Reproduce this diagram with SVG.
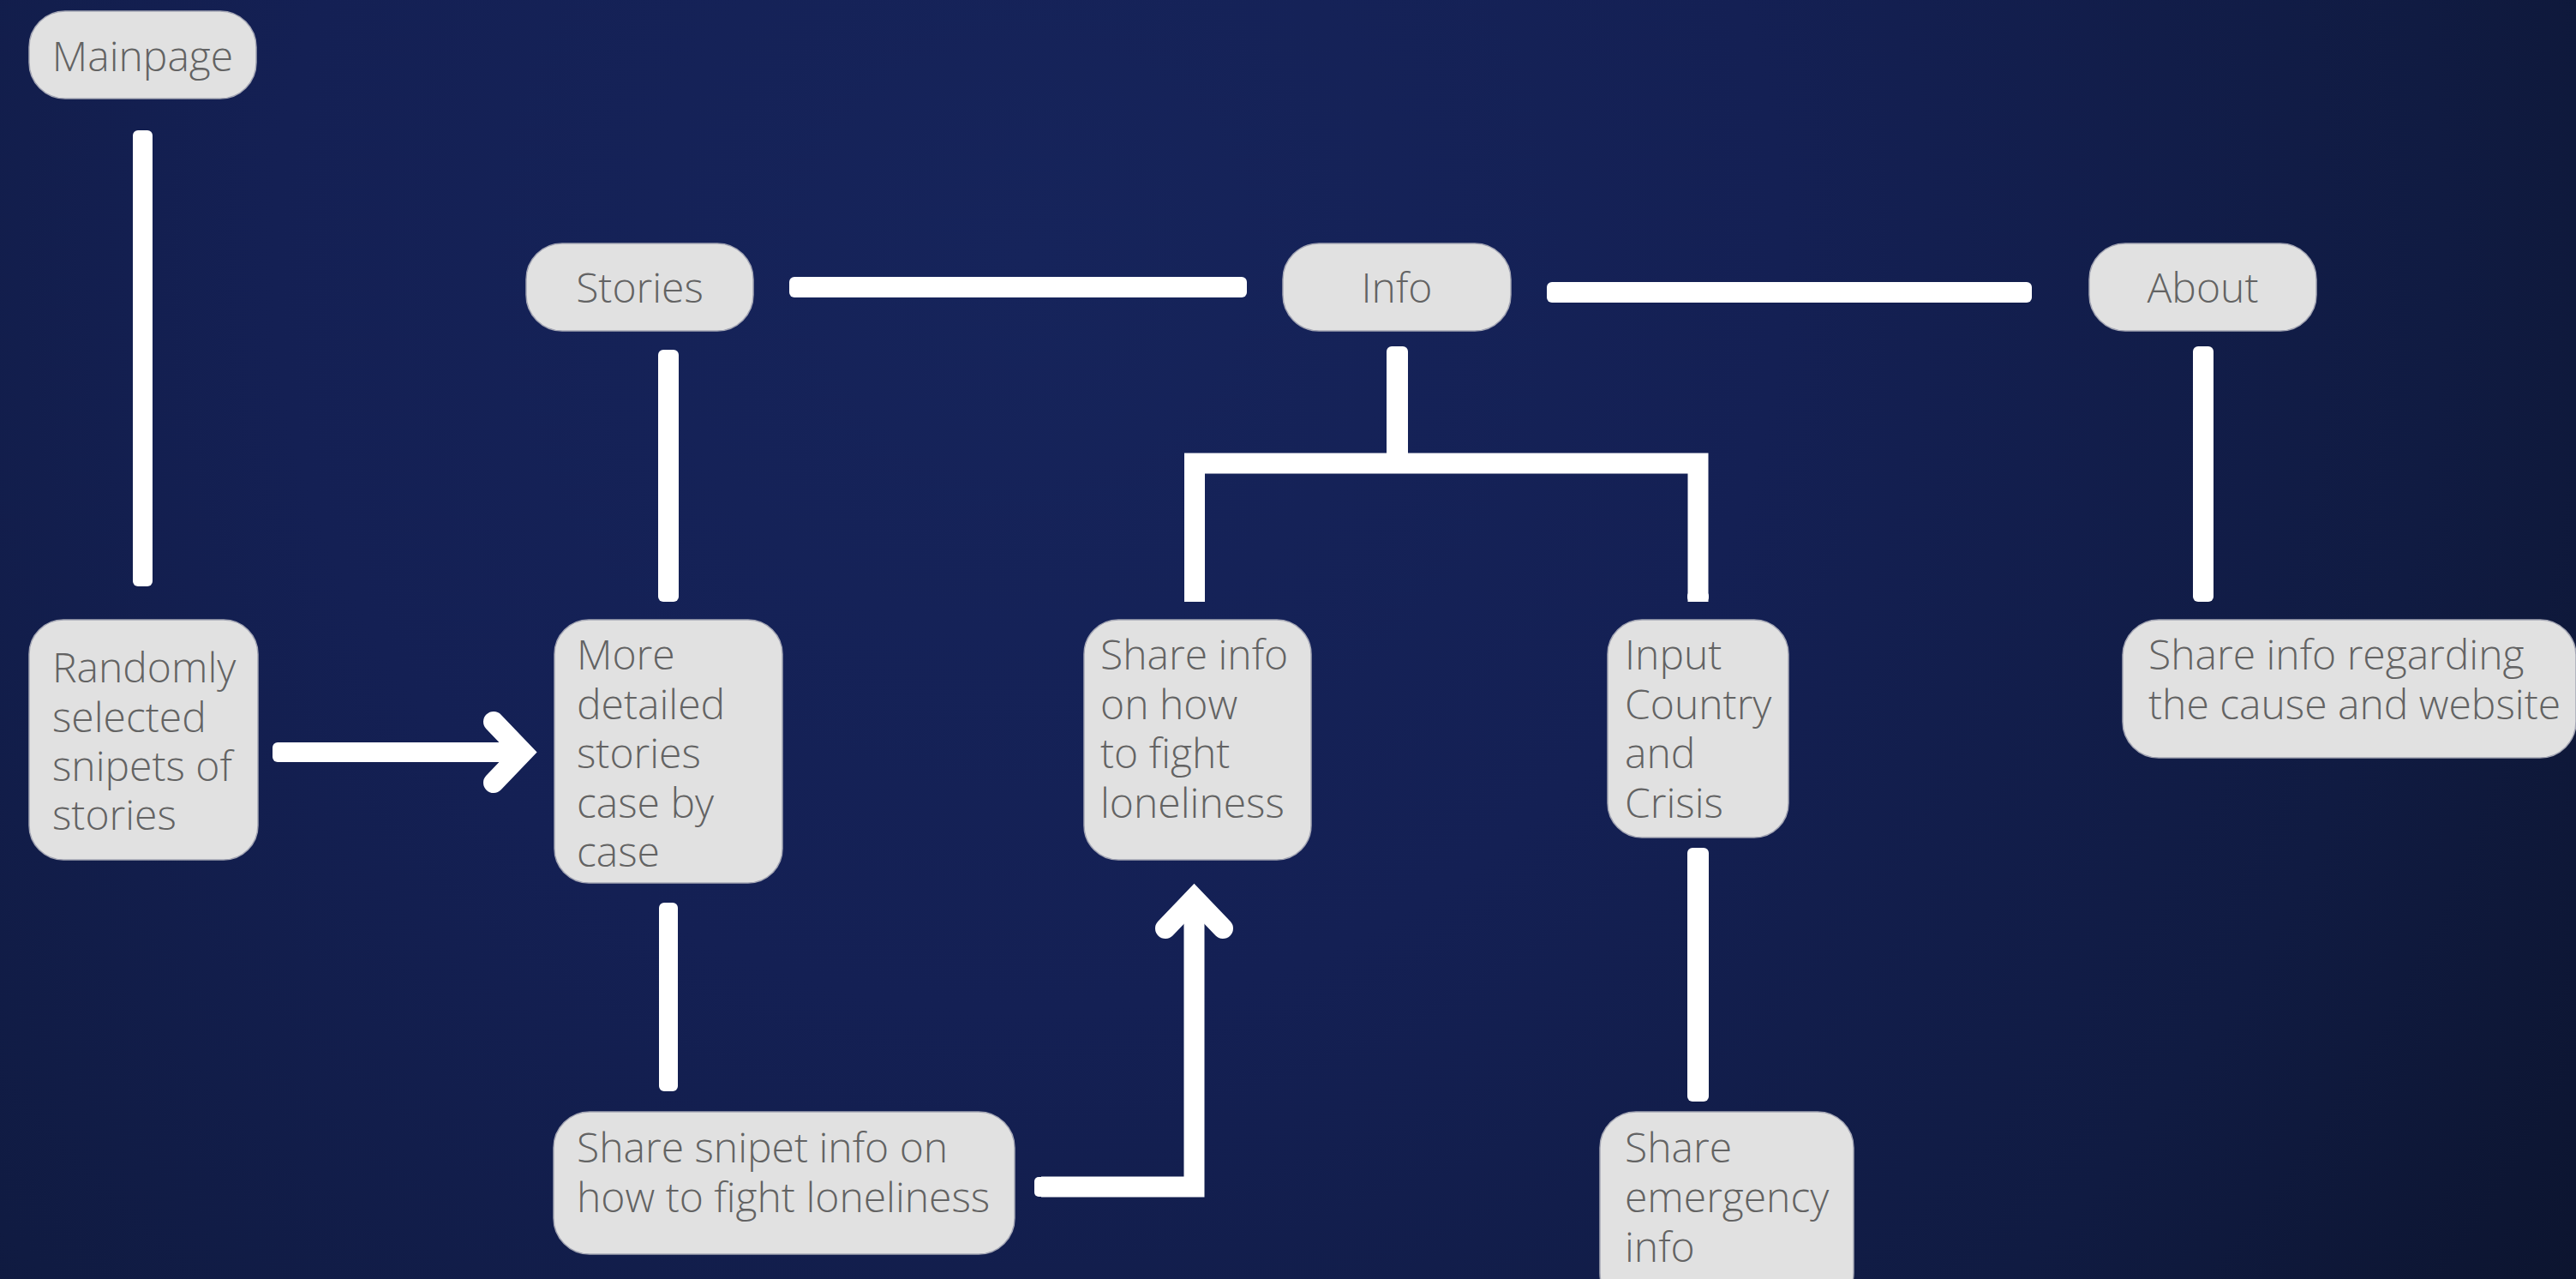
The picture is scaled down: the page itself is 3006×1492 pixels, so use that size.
<svg xmlns="http://www.w3.org/2000/svg" width="3006" height="1492" viewBox="0 0 3006 1492">
  <defs>
    <radialGradient id="bg" gradientUnits="userSpaceOnUse" cx="1200" cy="300" r="2200">
      <stop offset="0" stop-color="#16245b"/>
      <stop offset="0.4" stop-color="#142054"/>
      <stop offset="0.75" stop-color="#101b42"/>
      <stop offset="1" stop-color="#0c142e"/>
    </radialGradient>
    <style>
      .box { fill: #e1e1e1; stroke: #a4a6b4; stroke-width: 1.5; }
      .t { font-family: "Open Sans", "Liberation Sans", sans-serif; font-weight: 300; font-size: 48px; fill: #636363; }
      .c { text-anchor: middle; }
      .ln { fill: #ffffff; }
      .pl { fill: none; stroke: #ffffff; stroke-width: 24; stroke-linejoin: miter; stroke-linecap: butt; }
      .chev { fill: none; stroke: #ffffff; stroke-width: 24; stroke-linejoin: miter; stroke-linecap: round; }
    </style>
  </defs>
  <rect x="0" y="0" width="3006" height="1492" fill="url(#bg)"/>

  <g id="connectors">
    <rect class="ln" x="155" y="152" width="23" height="532" rx="6"/>
    <rect class="ln" x="921" y="323" width="534" height="24" rx="6"/>
    <rect class="ln" x="1805" y="329" width="566" height="24" rx="6"/>
    <rect class="ln" x="768" y="408" width="24" height="294" rx="6"/>
    <rect class="ln" x="1618" y="404" width="25" height="136" rx="6"/>
    <path class="pl" d="M1394,702 V540.5 H1981.5 V702"/>
    <rect class="ln" x="1382" y="690" width="23" height="12" rx="5"/>
    <rect class="ln" x="1969" y="690" width="25" height="12" rx="5"/>
    <rect class="ln" x="2559" y="404" width="24" height="298" rx="6"/>
    <rect class="ln" x="769" y="1053" width="22" height="220" rx="6"/>
    <rect class="ln" x="1969" y="989" width="25" height="296" rx="6"/>
    <rect class="ln" x="318" y="866" width="290" height="23" rx="6"/>
    <path class="chev" d="M576,842 L610,877.5 L576,913"/>
    <path class="pl" d="M1215,1384.5 H1393.5 V1050"/>
    <rect class="ln" x="1207" y="1373" width="20" height="23" rx="5"/>
    <path class="chev" d="M1360,1083 L1393.5,1048 L1427,1083"/>
  </g>

  <g id="node-mainpage">
    <rect class="box" x="34" y="13" width="265" height="102" rx="42"/>
    <text class="t c" x="166.5" y="83">Mainpage</text>
  </g>
  <g id="node-stories">
    <rect class="box" x="614" y="284" width="265" height="102" rx="42"/>
    <text class="t c" x="746.5" y="353">Stories</text>
  </g>
  <g id="node-info">
    <rect class="box" x="1497" y="284" width="266" height="102" rx="42"/>
    <text class="t c" x="1630" y="353">Info</text>
  </g>
  <g id="node-about">
    <rect class="box" x="2438" y="284" width="265" height="102" rx="42"/>
    <text class="t c" x="2570.5" y="353">About</text>
  </g>
  <g id="node-random">
    <rect class="box" x="34" y="723" width="267" height="280" rx="40"/>
    <text class="t" x="61" y="796">Randomly</text>
    <text class="t" x="61" y="853.5">selected</text>
    <text class="t" x="61" y="911">snipets of</text>
    <text class="t" x="61" y="968">stories</text>
  </g>
  <g id="node-more">
    <rect class="box" x="647" y="723" width="266" height="307" rx="40"/>
    <text class="t" x="673" y="781">More</text>
    <text class="t" x="673" y="838.5">detailed</text>
    <text class="t" x="673" y="896">stories</text>
    <text class="t" x="673" y="953.5">case by</text>
    <text class="t" x="673" y="1011">case</text>
  </g>
  <g id="node-shareinfo">
    <rect class="box" x="1265" y="723" width="265" height="280" rx="40"/>
    <text class="t" x="1284" y="781">Share info</text>
    <text class="t" x="1284" y="838.5">on how</text>
    <text class="t" x="1284" y="896">to fight</text>
    <text class="t" x="1284" y="953.5">loneliness</text>
  </g>
  <g id="node-input">
    <rect class="box" x="1876" y="723" width="211" height="254" rx="40"/>
    <text class="t" x="1896" y="781">Input</text>
    <text class="t" x="1896" y="838.5">Country</text>
    <text class="t" x="1896" y="896">and</text>
    <text class="t" x="1896" y="953.5">Crisis</text>
  </g>
  <g id="node-about-info">
    <rect class="box" x="2477" y="723" width="529" height="161" rx="42"/>
    <text class="t" x="2507" y="781">Share info regarding</text>
    <text class="t" x="2507" y="838.5">the cause and website</text>
  </g>
  <g id="node-snipet">
    <rect class="box" x="646" y="1297" width="538" height="166" rx="42"/>
    <text class="t" x="673" y="1356">Share snipet info on</text>
    <text class="t" x="673" y="1414">how to fight loneliness</text>
  </g>
  <g id="node-emergency">
    <rect class="box" x="1867" y="1297" width="296" height="230" rx="42"/>
    <text class="t" x="1896" y="1356">Share</text>
    <text class="t" x="1896" y="1414">emergency</text>
    <text class="t" x="1896" y="1472">info</text>
  </g>
</svg>
